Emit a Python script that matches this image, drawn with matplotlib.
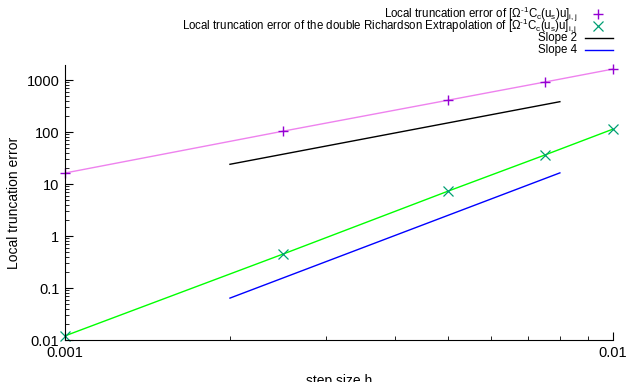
import numpy as np
import matplotlib.pyplot as plt
from matplotlib.lines import Line2D
from matplotlib.ticker import NullFormatter

plt.rcParams['font.family'] = ['Liberation Sans', 'DejaVu Sans']
plt.rcParams['mathtext.fontset'] = 'custom'
plt.rcParams['mathtext.rm'] = 'Liberation Sans'
plt.rcParams['mathtext.it'] = 'Liberation Sans'

# step sizes and measured errors
h = [0.001, 0.0025, 0.005, 0.0075, 0.01]
err_plain = [16.3, 104, 410, 915, 1630]
err_rich = [0.012, 0.45, 7.3, 36, 114]

# reference slopes, drawn between two step sizes
h_ref = [0.002, 0.008]
slope2 = [24.0, 384.0]
slope4 = [0.064, 16.4]

op = r'$[\Omega^{\text{-}1}C_c(u_s)u]_{i,j}$'
labels = [
    'Local truncation error of ' + op,
    'Local truncation error of the double Richardson Extrapolation of ' + op,
    'Slope 2',
    'Slope 4',
]

W, H = 629, 382
fig = plt.figure(figsize=(W / 100, H / 100), dpi=100)
ax = fig.add_axes([65 / W, 42 / H, 548 / W, 275 / H])

ax.plot(h, err_plain, color='#ee82ee', lw=1.0)
ax.plot(h, err_plain, ls='none', marker='+', ms=7, mew=1.0, color='#9400d3', clip_on=False)
ax.plot(h, err_rich, color='#00ff00', lw=1.0)
ax.plot(h, err_rich, ls='none', marker='x', ms=6.5, mew=0.9, color='#009e73', clip_on=False)
ax.plot(h_ref, slope2, color='black', lw=1.0)
ax.plot(h_ref, slope4, color='blue', lw=1.0)

ax.set_xscale('log')
ax.set_yscale('log')
ax.set_xlim(0.001, 0.01)
ax.set_ylim(0.01, 1950)
ax.set_xticks([0.001, 0.01])
ax.set_xticklabels(['0.001', '0.01'])
ax.xaxis.set_minor_formatter(NullFormatter())
ax.set_yticks([0.01, 0.1, 1, 10, 100, 1000])
ax.set_yticklabels(['0.01', '0.1', '1', '10', '100', '1000'])
ax.yaxis.set_minor_formatter(NullFormatter())
for s in ['top', 'right']:
    ax.spines[s].set_visible(False)
ax.tick_params(which='major', direction='in', length=6, labelsize=10.5, pad=4)
ax.tick_params(which='minor', direction='in', length=3)
ax.set_xlabel('step size h', fontsize=10)
ax.set_ylabel('Local truncation error', fontsize=10)
ax.xaxis.set_label_coords(0.5, -0.125)

# key in the top right corner: right-aligned text, sample to the right
rows = [14, 26, 38, 50]
handles = [
    dict(ls='none', marker='+', ms=7, mew=1.0, color='#9400d3'),
    dict(ls='none', marker='x', ms=6.5, mew=0.9, color='#009e73'),
    dict(color='black', lw=1.0),
    dict(color='blue', lw=1.0),
]
for y, lab, st in zip(rows, labels, handles):
    fig.text(577 / W, 1 - y / H, lab, ha='right', va='center', fontsize=8.3)
    if st.get('ls') == 'none':
        fig.add_artist(Line2D([598 / W], [1 - y / H], **st))
    else:
        fig.add_artist(Line2D([585 / W, 613 / W], [1 - y / H] * 2, **st))

fig.savefig('out.png', dpi=100)
